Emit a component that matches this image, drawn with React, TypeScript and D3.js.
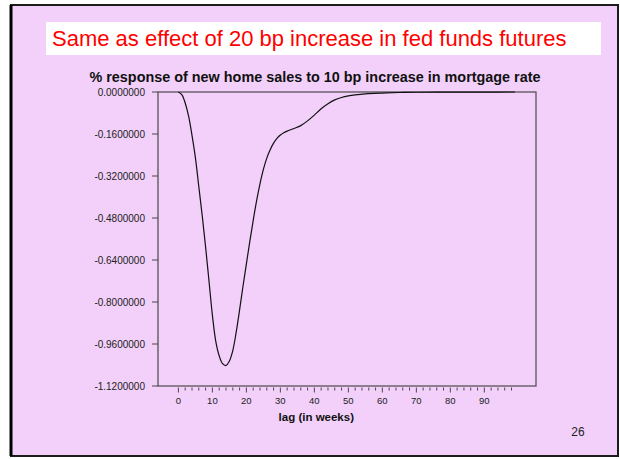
import React from "react";
import * as d3 from "d3";

// Impulse response: lag in weeks and % response of new home sales
const lags = [
  0, 1, 2, 3, 4, 5, 6, 7, 8, 9, 10, 11, 12, 13, 14, 15, 16, 17, 18, 19, 20,
  21, 22, 23, 24, 25, 26, 27, 28, 29, 30, 31, 32, 34, 36, 38, 40, 42, 44, 46,
  48, 50, 52, 55, 60, 65, 70, 80, 90, 99,
];
const responses = [
  0, -0.01, -0.042, -0.092, -0.165, -0.25, -0.36, -0.47, -0.59, -0.72, -0.85,
  -0.95, -1.005, -1.035, -1.042, -1.025, -0.985, -0.915, -0.83, -0.74, -0.655,
  -0.57, -0.49, -0.415, -0.35, -0.295, -0.252, -0.22, -0.195, -0.177, -0.164,
  -0.155, -0.149, -0.139, -0.128, -0.11, -0.088, -0.064, -0.045, -0.03,
  -0.021, -0.015, -0.011, -0.007, -0.004, -0.002, -0.001, -0.0005, -0.0002, 0,
];

const yTicks = [0, -0.16, -0.32, -0.48, -0.64, -0.8, -0.96, -1.12];
const xMajorTicks = [0, 10, 20, 30, 40, 50, 60, 70, 80, 90];
const xMinorTicks = d3.range(0, 99, 2);

const slideTitle = "Same as effect of 20 bp increase in fed funds futures";
const chartTitle = "% response of new home sales to 10 bp increase in mortgage rate";
const xAxisTitle = "lag (in weeks)";
const pageNumber = "26";

const W = 620;
const H = 459;
const plot = { left: 158, right: 536, top: 92, bottom: 386 };

export default function App() {
  const x = d3.scaleLinear().domain([-6, 105.2]).range([plot.left, plot.right]);
  const y = d3.scaleLinear().domain([0, -1.12]).range([plot.top, plot.bottom]);

  const line = d3
    .line<number>()
    .x((_, i) => x(lags[i]))
    .y((d) => y(d))
    .curve(d3.curveCatmullRom.alpha(0.5));

  const font = "Arial, 'Liberation Sans', Helvetica, sans-serif";
  const axisColor = "#4a4a4a";

  return (
    <div style={{ position: "absolute", left: 0, top: 0 }}>
      <svg width={W} height={H} style={{ display: "block" }} fontFamily={font}>
        <rect x={0} y={0} width={W} height={H} fill="#ffffff" />
        {/* slide background and border */}
        <rect x={11} y={5} width={607} height={451} fill="#f2d0fa" stroke="#1c1c1c" strokeWidth={2} />
        <line x1={11} y1={5} x2={11} y2={456} stroke="#000" strokeWidth={3} />

        {/* slide heading */}
        <rect x={46} y={22} width={555} height={33} fill="#ffffff" />
        <text x={52} y={46} fontSize={22} fill="#ff0000">
          {slideTitle}
        </text>

        {/* chart title */}
        <text x={315} y={82} fontSize={14.4} fontWeight="bold" textAnchor="middle" fill="#111">
          {chartTitle}
        </text>

        {/* plot frame */}
        <rect
          x={plot.left}
          y={plot.top}
          width={plot.right - plot.left}
          height={plot.bottom - plot.top}
          fill="none"
          stroke={axisColor}
          strokeWidth={1.2}
        />

        {/* y axis ticks and labels */}
        {yTicks.map((t) => (
          <g key={t}>
            <line x1={plot.left - 6} x2={plot.left} y1={y(t)} y2={y(t)} stroke={axisColor} strokeWidth={1} />
            <text x={145} y={y(t)} dy="0.35em" fontSize={10} textAnchor="end" fill="#222">
              {t.toFixed(7)}
            </text>
          </g>
        ))}

        {/* x axis ticks and labels */}
        {xMinorTicks.map((t) => (
          <line
            key={"m" + t}
            x1={x(t)}
            x2={x(t)}
            y1={plot.bottom + 1.5}
            y2={plot.bottom + (t % 10 === 0 ? 6.5 : 4.5)}
            stroke={axisColor}
            strokeWidth={1}
          />
        ))}
        {xMajorTicks.map((t) => (
          <text key={t} x={x(t)} y={404} fontSize={9.5} textAnchor="middle" fill="#222">
            {t}
          </text>
        ))}
        <text x={354} y={421} fontSize={11.5} fontWeight="bold" textAnchor="end" fill="#111">
          {xAxisTitle}
        </text>

        {/* response curve */}
        <path d={line(responses) ?? ""} fill="none" stroke="#111" strokeWidth={1.2} />

        <text x={578} y={436} fontSize={12} textAnchor="middle" fill="#222">
          {pageNumber}
        </text>
      </svg>
    </div>
  );
}
